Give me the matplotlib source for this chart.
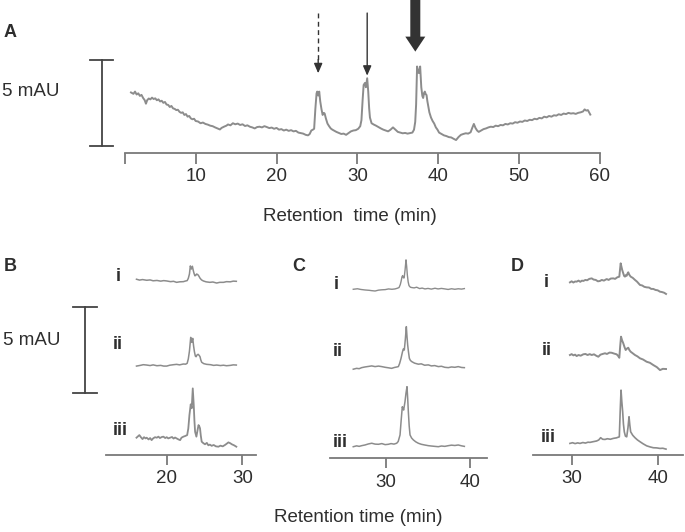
import matplotlib
matplotlib.use("Agg")
import matplotlib.pyplot as plt
from matplotlib.transforms import blended_transform_factory

plt.rcParams["font.family"] = ["Liberation Sans", "DejaVu Sans"]

# ---- data (retention time in min, absorbance in mAU) ----
# panel A: full chromatogram
a_time = [2.0, 2.3, 2.5, 2.7, 2.9, 3.1, 3.3, 3.5, 3.7, 3.85, 4.0, 4.2, 4.4, 4.6, 4.8, 5.0, 5.2, 5.4, 5.6, 5.8,
          6.0, 6.2, 6.4, 6.6, 6.8, 7.0, 7.2, 7.4, 7.6, 7.8, 8.0, 8.2, 8.4, 8.6, 8.8, 9.0, 9.2, 9.4, 9.6, 9.8,
          10.0, 10.3, 10.6, 10.9, 11.2, 11.5, 11.8, 12.1, 12.4, 12.7, 13.0, 13.2, 13.5, 13.8, 14.0, 14.3,
          14.6, 14.9, 15.2, 15.5, 15.8, 16.1, 16.4, 16.7, 17.0, 17.3, 17.6, 17.9, 18.2, 18.5, 18.8, 19.1,
          19.4, 19.7, 20.0, 20.3, 20.6, 20.9, 21.2, 21.5, 21.8, 22.1, 22.4, 22.7, 23.0, 23.3, 23.6, 23.9,
          24.1, 24.3, 24.5, 24.65, 24.8, 24.95, 25.03, 25.15, 25.28, 25.4, 25.55, 25.7, 25.85, 25.95, 26.1,
          26.3, 26.5, 26.7, 26.9, 27.1, 27.4, 27.7, 28.0, 28.3, 28.6, 28.9, 29.2, 29.5, 29.8, 30.1, 30.35,
          30.5, 30.65, 30.77, 30.93, 31.05, 31.21, 31.34, 31.45, 31.55, 31.75, 32.0, 32.3, 32.6, 32.9, 33.2,
          33.5, 33.8, 34.1, 34.4, 34.7, 35.0, 35.3, 35.6, 35.9, 36.2, 36.5, 36.8, 37.0, 37.15, 37.26, 37.38,
          37.5, 37.6, 37.76, 37.9, 38.03, 38.13, 38.25, 38.34, 38.45, 38.55, 38.65, 38.75, 38.9, 39.1, 39.3,
          39.5, 39.7, 39.9, 40.1, 40.4, 40.7, 41.0, 41.3, 41.6, 41.9, 42.2, 42.5, 42.8, 43.1, 43.4, 43.7,
          44.0, 44.2, 44.4, 44.6, 44.8, 45.0, 45.3, 45.6, 45.9, 46.2, 46.5, 46.8, 47.1, 47.4, 47.7, 48.0,
          48.3, 48.6, 48.9, 49.2, 49.5, 49.8, 50.1, 50.4, 50.7, 51.0, 51.3, 51.6, 51.9, 52.2, 52.5, 52.8,
          53.1, 53.4, 53.7, 54.0, 54.3, 54.6, 54.9, 55.2, 55.5, 55.8, 56.1, 56.4, 56.7, 57.0, 57.3, 57.6,
          57.9, 58.1, 58.3, 58.5, 58.8]
a_mau = [3.50, 3.42, 3.55, 3.38, 3.45, 3.30, 3.36, 3.18, 3.05, 2.85, 3.05, 3.15, 3.10, 3.20, 3.12, 3.16, 3.05,
         3.10, 2.98, 3.02, 2.90, 2.95, 2.80, 2.78, 2.66, 2.72, 2.58, 2.55, 2.48, 2.50, 2.38, 2.32, 2.35, 2.20,
         2.25, 2.10, 2.14, 2.00, 1.95, 1.98, 1.85, 1.82, 1.72, 1.76, 1.68, 1.64, 1.58, 1.55, 1.48, 1.42, 1.36,
         1.45, 1.52, 1.58, 1.65, 1.60, 1.72, 1.66, 1.70, 1.62, 1.66, 1.56, 1.60, 1.52, 1.48, 1.42, 1.50, 1.52,
         1.48, 1.55, 1.50, 1.44, 1.47, 1.40, 1.45, 1.35, 1.38, 1.30, 1.35, 1.28, 1.32, 1.25, 1.28, 1.18, 1.15,
         1.12, 1.05, 1.02, 1.10, 1.30, 1.35, 1.40, 2.55, 3.45, 3.55, 3.32, 3.55, 3.00, 2.55, 2.20, 2.32, 2.28,
         2.00, 1.70, 1.55, 1.42, 1.35, 1.30, 1.22, 1.16, 1.10, 1.12, 1.05, 1.15, 1.25, 1.30, 1.32, 1.40, 1.55,
         1.90, 3.10, 3.93, 4.05, 3.80, 4.32, 3.55, 2.60, 2.05, 1.72, 1.65, 1.58, 1.50, 1.42, 1.35, 1.30, 1.25,
         1.35, 1.48, 1.35, 1.22, 1.18, 1.14, 1.16, 1.12, 1.15, 1.18, 1.35, 1.80, 2.80, 5.00, 4.70, 4.62, 5.00,
         3.80, 3.30, 3.18, 3.48, 3.55, 3.40, 3.35, 3.00, 2.75, 2.35, 2.05, 1.85, 1.70, 1.48, 1.35, 1.18, 1.10,
         1.02, 0.98, 0.92, 0.90, 0.82, 0.75, 0.92, 1.05, 1.10, 1.14, 1.12, 1.20, 1.45, 1.68, 1.45, 1.30, 1.22,
         1.30, 1.38, 1.42, 1.48, 1.52, 1.50, 1.58, 1.55, 1.62, 1.60, 1.68, 1.65, 1.72, 1.70, 1.78, 1.75, 1.82,
         1.80, 1.88, 1.85, 1.92, 1.90, 1.98, 1.95, 2.03, 2.00, 2.10, 2.06, 2.14, 2.10, 2.18, 2.16, 2.24, 2.20,
         2.28, 2.25, 2.32, 2.28, 2.30, 2.26, 2.32, 2.35, 2.40, 2.52, 2.45, 2.48, 2.22]

# panel B: traces i, ii, iii (mAU relative to each trace's baseline)
b_time_i = [16.0, 16.4, 16.8, 17.35, 17.8, 18.2, 18.7, 19.2, 19.6, 20.0, 20.5, 20.9, 21.3, 21.7, 22.2, 22.5,
            22.7, 22.85, 23.0, 23.12, 23.26, 23.39, 23.5, 23.6, 23.72, 23.83, 23.95, 24.1, 24.25, 24.4, 24.6,
            24.84, 25.2, 25.7, 26.1, 26.6, 27.0, 27.5, 27.9, 28.4, 28.8, 29.2]
b_mau_i = [0.10, 0.05, 0.08, 0.04, 0.06, 0.01, 0.03, -0.01, 0.02, 0.0, -0.04, -0.02, -0.08, -0.05, -0.04, 0.0,
           0.02, 0.15, 0.40, 0.87, 0.69, 0.85, 0.62, 0.45, 0.30, 0.32, 0.40, 0.37, 0.28, 0.16, 0.06, 0.0, -0.05,
           -0.08, -0.06, -0.12, -0.08, -0.08, -0.04, -0.05, -0.01, -0.02]
b_time_ii = [16.0, 16.5, 16.9, 17.35, 17.8, 18.2, 18.7, 19.2, 19.6, 20.0, 20.4, 20.9, 21.3, 21.7, 22.2, 22.5,
             22.7, 22.85, 23.0, 23.17, 23.3, 23.44, 23.55, 23.66, 23.78, 23.88, 24.0, 24.15, 24.3, 24.4, 24.5,
             24.62, 24.9, 25.28, 25.8, 26.2, 26.6, 27.1, 27.5, 27.9, 28.4, 28.8, 29.2]
b_mau_ii = [-0.06, -0.02, 0.02, 0.0, -0.03, 0.01, -0.04, -0.02, -0.06, -0.06, -0.01, 0.02, 0.04, 0.01, 0.06,
            0.05, 0.10, 0.35, 0.80, 1.60, 1.31, 1.54, 1.10, 0.77, 0.52, 0.48, 0.58, 0.62, 0.55, 0.48, 0.30, 0.16,
            0.08, 0.04, 0.02, -0.02, 0.0, -0.03, -0.01, -0.04, -0.02, 0.01, 0.0]
b_time_iii = [16.0, 16.2, 16.38, 16.6, 16.8, 17.0, 17.2, 17.35, 17.6, 17.8, 18.0, 18.2, 18.45, 18.68, 18.9,
              19.1, 19.35, 19.56, 19.8, 20.0, 20.2, 20.44, 20.7, 20.9, 21.1, 21.3, 21.55, 21.77, 21.95, 22.2,
              22.45, 22.7, 22.85, 23.0, 23.17, 23.3, 23.44, 23.57, 23.66, 23.75, 23.92, 24.05, 24.2, 24.3, 24.4,
              24.5, 24.62, 24.85, 25.06, 25.3, 25.5, 25.7, 25.94, 26.2, 26.5, 26.83, 27.1, 27.4, 27.7, 27.95,
              28.15, 28.4, 28.6, 28.9, 29.2]
b_mau_iii = [0.02, 0.10, 0.17, 0.04, -0.06, 0.05, -0.02, 0.02, -0.08, 0.0, -0.12, -0.02, 0.05, 0.02, 0.08, 0.0,
             0.06, 0.08, 0.0, 0.05, -0.02, 0.02, 0.06, -0.03, 0.03, -0.02, -0.08, -0.12, 0.02, 0.08, 0.12, 0.17,
             0.55, 1.33, 1.95, 1.72, 2.87, 1.91, 1.00, 0.36, 0.08, 0.40, 0.75, 0.68, 0.56, 0.15, -0.21, -0.30,
             -0.36, -0.28, -0.42, -0.38, -0.45, -0.40, -0.48, -0.50, -0.44, -0.48, -0.40, -0.32, -0.25, -0.30,
             -0.36, -0.42, -0.50]

# panel C
c_time_i = [26.1, 26.6, 27.0, 27.5, 28.0, 28.3, 28.7, 29.1, 29.5, 29.9, 30.3, 30.7, 31.07, 31.35, 31.55, 31.7,
            31.8, 31.9, 31.98, 32.08, 32.16, 32.27, 32.38, 32.46, 32.54, 32.64, 32.74, 32.9, 33.06, 33.35, 33.65,
            34.0, 34.3, 34.64, 35.0, 35.4, 35.83, 36.2, 36.6, 37.02, 37.4, 37.8, 38.2, 38.6, 39.0, 39.33]
c_mau_i = [-0.02, 0.01, -0.03, -0.06, -0.08, -0.10, -0.12, -0.07, -0.05, -0.04, 0.0, -0.02, 0.0, 0.04, 0.08,
           0.25, 0.45, 0.70, 0.77, 0.64, 0.64, 1.10, 1.68, 1.30, 0.81, 0.40, 0.19, 0.10, 0.08, 0.06, 0.10, 0.02,
           0.05, 0.0, 0.03, -0.01, 0.04, 0.0, 0.03, 0.0, -0.03, 0.01, -0.02, 0.01, -0.01, 0.02]
c_time_ii = [26.1, 26.5, 26.8, 27.1, 27.5, 27.9, 28.3, 28.7, 29.1, 29.5, 29.9, 30.3, 30.67, 31.0, 31.3, 31.47,
             31.62, 31.79, 31.95, 32.06, 32.18, 32.3, 32.42, 32.5, 32.58, 32.68, 32.78, 32.9, 33.06, 33.4, 33.85,
             34.2, 34.6, 35.04, 35.4, 35.8, 36.23, 36.6, 37.0, 37.42, 37.8, 38.2, 38.6, 39.0, 39.33]
c_mau_ii = [-0.13, -0.08, -0.10, -0.04, 0.0, 0.03, 0.06, 0.02, 0.05, 0.02, -0.02, -0.05, -0.08, -0.03, 0.0,
            0.02, 0.20, 0.50, 0.85, 1.04, 0.98, 1.60, 2.33, 1.75, 1.27, 0.85, 0.50, 0.38, 0.31, 0.22, 0.16, 0.18,
            0.10, 0.12, 0.06, 0.08, 0.02, 0.04, -0.02, -0.04, 0.0, -0.02, 0.02, -0.03, -0.04]
c_time_iii = [26.1, 26.5, 26.8, 27.1, 27.5, 27.9, 28.3, 28.7, 29.1, 29.5, 29.9, 30.28, 30.6, 30.95, 31.27,
              31.45, 31.67, 31.8, 31.94, 32.02, 32.1, 32.26, 32.38, 32.5, 32.58, 32.66, 32.76, 32.86, 33.05,
              33.26, 33.55, 33.85, 34.2, 34.6, 35.04, 35.4, 35.8, 36.23, 36.6, 37.0, 37.42, 37.8, 38.2, 38.6,
              39.0, 39.33]
c_mau_iii = [-0.10, -0.05, -0.08, -0.04, 0.0, 0.06, 0.10, 0.05, 0.04, 0.08, 0.02, 0.04, 0.08, 0.05, 0.10, 0.20,
             0.58, 1.40, 2.21, 2.10, 2.02, 2.50, 3.00, 3.37, 2.70, 1.92, 1.10, 0.58, 0.40, 0.29, 0.18, 0.10, 0.04,
             0.0, -0.04, -0.06, -0.08, -0.10, -0.06, -0.08, -0.04, -0.01, -0.03, 0.0, -0.05, -0.08]

# panel D
d_time_i = [29.8, 30.0, 30.2, 30.4, 30.58, 30.8, 31.0, 31.2, 31.35, 31.6, 31.8, 32.05, 32.33, 32.55, 32.8,
            33.05, 33.29, 33.5, 33.75, 34.07, 34.3, 34.55, 34.84, 35.05, 35.3, 35.54, 35.62, 35.7, 35.78, 35.88,
            36.0, 36.1, 36.2, 36.3, 36.4, 36.5, 36.58, 36.7, 36.86, 37.1, 37.36, 37.6, 37.94, 38.2, 38.45, 38.72,
            39.0, 39.25, 39.49, 39.75, 40.0, 40.27, 40.5, 40.75, 40.97]
d_mau_i = [-0.02, 0.04, -0.03, 0.03, 0.02, 0.08, 0.01, 0.08, 0.06, 0.12, 0.10, 0.18, 0.21, 0.14, 0.12, 0.04,
           0.06, 0.12, 0.08, 0.17, 0.12, 0.20, 0.21, 0.18, 0.27, 0.31, 0.70, 1.08, 0.90, 0.69, 0.50, 0.35, 0.31,
           0.40, 0.36, 0.50, 0.56, 0.42, 0.31, 0.24, 0.12, 0.02, -0.17, -0.20, -0.28, -0.31, -0.32, -0.40, -0.40,
           -0.46, -0.48, -0.56, -0.58, -0.62, -0.69]
d_time_ii = [29.8, 30.0, 30.2, 30.4, 30.58, 30.8, 31.05, 31.35, 31.6, 31.85, 32.1, 32.33, 32.6, 32.85, 33.1,
             33.35, 33.6, 33.88, 34.1, 34.4, 34.65, 34.95, 35.23, 35.4, 35.54, 35.64, 35.74, 35.86, 36.0, 36.15,
             36.28, 36.45, 36.58, 36.72, 36.86, 37.1, 37.36, 37.65, 37.94, 38.3, 38.72, 39.1, 39.49, 39.9, 40.27,
             40.6, 40.97]
d_mau_ii = [0.0, 0.05, -0.02, 0.02, -0.06, 0.0, -0.04, 0.04, 0.06, 0.0, 0.05, 0.0, 0.04, -0.04, -0.10, 0.02,
            0.06, 0.10, 0.06, 0.14, 0.13, 0.08, 0.04, -0.05, -0.16, 0.50, 1.06, 0.85, 0.68, 0.45, 0.29, 0.38,
            0.42, 0.28, 0.19, 0.10, 0.0, -0.08, -0.19, -0.26, -0.39, -0.45, -0.58, -0.70, -0.87, -0.80, -0.81]
d_time_iii = [29.8, 30.1, 30.4, 30.7, 30.97, 31.3, 31.6, 31.9, 32.13, 32.5, 32.9, 33.15, 33.37, 33.6, 33.88,
              34.15, 34.5, 34.84, 35.2, 35.54, 35.64, 35.74, 35.83, 35.93, 36.02, 36.12, 36.25, 36.4, 36.55,
              36.67, 36.76, 36.86, 37.1, 37.36, 37.65, 37.94, 38.3, 38.72, 39.1, 39.49, 39.9, 40.27, 40.6, 40.97]
d_mau_iii = [-0.02, 0.02, -0.03, 0.01, -0.02, 0.03, 0.0, 0.05, 0.04, 0.08, 0.12, 0.18, 0.31, 0.22, 0.21, 0.25,
             0.22, 0.27, 0.30, 0.36, 1.80, 3.06, 2.40, 1.81, 1.10, 0.65, 0.40, 0.36, 0.90, 1.52, 1.05, 0.65, 0.45,
             0.31, 0.18, 0.08, -0.04, -0.16, -0.22, -0.27, -0.28, -0.31, -0.30, -0.35]

trace_labels = ["i", "ii", "iii"]

# ---- layout (pixel based, 685 x 532) ----
W, H = 685, 532
PX_PER_MAU = 17.3
TRACE = "#8c8c8c"
AXIS = "#7a7a7a"
TEXT = "#2e2e2e"
DARK = "#333333"


def px_axes(fig, left, right, top, bottom):
    return fig.add_axes([left / W, 1 - bottom / H, (right - left) / W, (bottom - top) / H])


def ftext(fig, x, y, s, **kw):
    kw.setdefault("color", TEXT)
    kw.setdefault("va", "baseline")
    fig.text(x / W, 1 - y / H, s, **kw)


def style_axis(ax, xlim, ticks, height_px, tick_len, pad):
    ax.set_xlim(*xlim)
    ax.set_ylim(0, height_px / PX_PER_MAU)
    ax.patch.set_visible(False)
    for side in ("left", "right", "top"):
        ax.spines[side].set_visible(False)
    ax.spines["bottom"].set_color(AXIS)
    ax.spines["bottom"].set_linewidth(1.3)
    ax.set_yticks([])
    ax.set_xticks(ticks)
    ax.set_xticklabels([str(t) for t in ticks])
    ax.tick_params(axis="x", which="both", direction="out", length=tick_len, width=1.3,
                   color=AXIS, labelsize=13.5, labelcolor=TEXT, pad=pad)


def scale_bar(ax, x_axes, cap_half, y0):
    tr = blended_transform_factory(ax.transAxes, ax.transData)
    kw = dict(color="#444444", lw=1.3, transform=tr, clip_on=False)
    ax.plot([x_axes, x_axes], [y0, y0 + 5], **kw)
    ax.plot([x_axes - cap_half, x_axes + cap_half], [y0, y0], **kw)
    ax.plot([x_axes - cap_half, x_axes + cap_half], [y0 + 5, y0 + 5], **kw)


fig = plt.figure(figsize=(W / 100, H / 100), dpi=100)

# ---- panel A ----
axA = px_axes(fig, 125, 600, 0, 153)
style_axis(axA, (1.26, 60), [10, 20, 30, 40, 50, 60], 153, 8, 2.5)
axA.set_xticks([1.26], minor=True)
axA.plot(a_time, a_mau, color=TRACE, lw=1.4, clip_on=False)
scale_bar(axA, -0.049, 0.024, 0.4)

# arrows over the three peaks
axA.plot([25.15, 25.15], [8.09, 5.3], color=DARK, lw=1.0, ls=(0, (3.5, 2.5)), clip_on=False)
axA.annotate("", xy=(25.15, 4.61), xytext=(25.15, 5.4), annotation_clip=False,
             arrowprops=dict(arrowstyle="-|>,head_length=0.58,head_width=0.25", color=DARK, lw=1.0,
                             shrinkA=0, shrinkB=0, mutation_scale=10))
axA.annotate("", xy=(31.21, 4.47), xytext=(31.21, 8.09), annotation_clip=False,
             arrowprops=dict(arrowstyle="-|>,head_length=0.58,head_width=0.25", color=DARK, lw=1.0,
                             shrinkA=0, shrinkB=0, mutation_scale=10))
axA.annotate("", xy=(37.16, 5.86), xytext=(37.16, 9.2), annotation_clip=False,
             arrowprops=dict(arrowstyle="simple,head_length=10.8,head_width=14.4,tail_width=7.2",
                             color=DARK, lw=0, shrinkA=0, shrinkB=0, mutation_scale=1))

ftext(fig, 4, 36.7, "A", fontsize=13, fontweight="bold")
ftext(fig, 2, 96.5, "5 mAU", fontsize=13.5)
ftext(fig, 350, 221, "Retention  time (min)", fontsize=13.5, ha="center")

# ---- panels B, C, D ----
panels = [
    dict(box=(106, 256, 255, 455), xlim=(11.97, 31.8), ticks=[20, 30],
         traces=[(b_time_i, b_mau_i), (b_time_ii, b_mau_ii), (b_time_iii, b_mau_iii)],
         offsets=[10.06, 5.2, 0.98], letter=("B", 3.3, 270.7), lw=[1.1, 1.1, 1.3],
         labels=[(118.3, 280.7), (117.8, 349.3), (120, 435)]),
    dict(box=(330, 486.7, 255, 458.3), xlim=(23.33, 41.99), ticks=[30, 40],
         traces=[(c_time_i, c_mau_i), (c_time_ii, c_mau_ii), (c_time_iii, c_mau_iii)],
         offsets=[9.79, 5.28, 0.77], letter=("C", 292.7, 270.7), lw=[1.0, 1.1, 1.1],
         labels=[(336, 289.3), (337.3, 356), (340, 447.3)]),
    dict(box=(532.7, 683.3, 255, 455), xlim=(25.47, 42.98), ticks=[30, 40],
         traces=[(d_time_i, d_mau_i), (d_time_ii, d_mau_ii), (d_time_iii, d_mau_iii)],
         offsets=[10.0, 5.78, 0.69], letter=("D", 510.7, 270.7), lw=[1.4, 1.4, 1.2],
         labels=[(546.3, 287.3), (546.8, 355.3), (548, 442.3)]),
]

for i, p in enumerate(panels):
    left, right, top, bottom = p["box"]
    ax = px_axes(fig, left, right, top, bottom)
    style_axis(ax, p["xlim"], p["ticks"], bottom - top, 7, 4)
    for (t, v), off, lw in zip(p["traces"], p["offsets"], p["lw"]):
        ax.plot(t, [y + off for y in v], color=TRACE, lw=lw, clip_on=False)
    name, lx, ly = p["letter"]
    ftext(fig, lx, ly, name, fontsize=13, fontweight="bold")
    for lab, (x, y) in zip(trace_labels, p["labels"]):
        ftext(fig, x, y, lab, fontsize=13, fontweight="bold", ha="center")
    if i == 0:
        scale_bar(ax, (85 - left) / (right - left), 12 / (right - left), (455 - 393.3) / PX_PER_MAU)
        ftext(fig, 3, 345, "5 mAU", fontsize=13.5)

ftext(fig, 358, 521.7, "Retention time (min)", fontsize=13.5, ha="center")

fig.savefig("out.png", dpi=100)
